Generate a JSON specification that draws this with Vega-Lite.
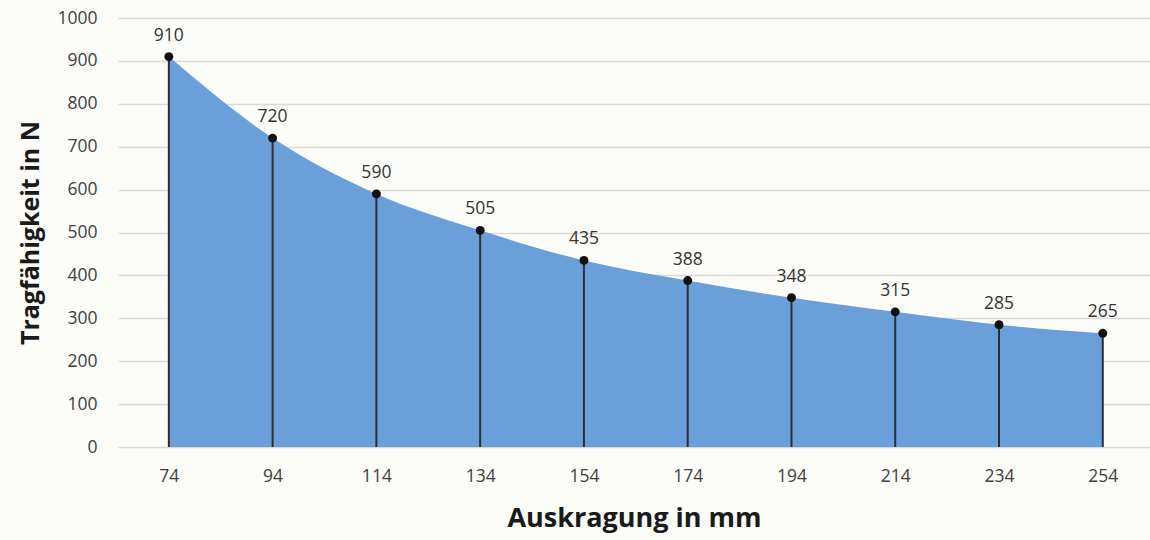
{
  "$schema": "https://vega.github.io/schema/vega-lite/v6.json",
  "width": 1032,
  "height": 429,
  "autosize": {"type": "none"},
  "padding": {"left": 118, "top": 18, "right": 0, "bottom": 93},
  "background": "#fcfcf8",
  "config": {
    "view": {"stroke": null},
    "font": "Open Sans"
  },
  "data": {
    "values": [
      {"mm": 74, "N": 910},
      {"mm": 94, "N": 720},
      {"mm": 114, "N": 590},
      {"mm": 134, "N": 505},
      {"mm": 154, "N": 435},
      {"mm": 174, "N": 388},
      {"mm": 194, "N": 348},
      {"mm": 214, "N": 315},
      {"mm": 234, "N": 285},
      {"mm": 254, "N": 265}
    ]
  },
  "encoding": {
    "x": {
      "field": "mm",
      "type": "quantitative",
      "scale": {"domain": [64.2, 263.1], "nice": false, "zero": false},
      "axis": {
        "values": [74, 94, 114, 134, 154, 174, 194, 214, 234, 254],
        "format": "d",
        "title": "Auskragung in mm",
        "titleFontSize": 27,
        "titleFontWeight": "bold",
        "titleColor": "#1a1a1a",
        "titlePadding": 21,
        "labelFontSize": 17.5,
        "labelColor": "#404040",
        "labelPadding": 20,
        "ticks": false,
        "domain": false,
        "grid": false
      }
    },
    "y": {
      "field": "N",
      "type": "quantitative",
      "scale": {"domain": [0, 1000], "nice": false},
      "axis": {
        "values": [0, 100, 200, 300, 400, 500, 600, 700, 800, 900, 1000],
        "format": "d",
        "title": "Tragfähigkeit in N",
        "titleFontSize": 25,
        "titleFontWeight": "bold",
        "titleColor": "#1a1a1a",
        "titlePadding": 13,
        "labelFontSize": 17.5,
        "labelColor": "#404040",
        "labelPadding": 21,
        "ticks": false,
        "domain": false,
        "grid": true,
        "gridColor": "#d9d9d9",
        "gridWidth": 1.5
      }
    }
  },
  "layer": [
    {
      "mark": {"type": "area", "interpolate": "monotone", "color": "#6b9fd9", "opacity": 1}
    },
    {
      "mark": {"type": "rule", "color": "#2a2f36", "strokeWidth": 2},
      "encoding": {"y2": {"datum": 0}}
    },
    {
      "mark": {"type": "point", "filled": true, "color": "#111111", "size": 80, "opacity": 1}
    },
    {
      "mark": {"type": "text", "dy": -21, "fontSize": 17.5, "color": "#333333"},
      "encoding": {"text": {"field": "N", "type": "quantitative"}}
    }
  ]
}
